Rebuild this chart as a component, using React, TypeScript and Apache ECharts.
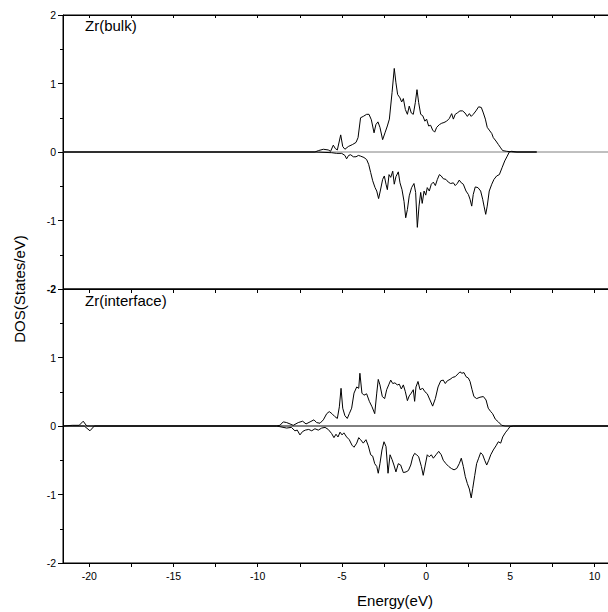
import React, { useEffect, useRef } from "react";
import * as echarts from "echarts";

const X_MIN = -21.56;
const X_MAX = 10.98;
const energyTicks = [-20, -17.5, -15, -12.5, -10, -7.5, -5, -2.5, 0, 2.5, 5, 7.5, 10];
const energyLabels = [-20, -15, -10, -5, 0, 5, 10];

// Zr(bulk) spin-up
const bulkUpE = [-21.56, -6.6, -6.4, -6.1, -5.81, -5.67, -5.51, -5.39, -5.27, -5.07, -4.95, -4.82, -4.62, -4.36, -4.16, -4.04, -3.89, -3.73, -3.53, -3.39, -3.25, -3.09, -2.98, -2.86, -2.74, -2.58, -2.44, -2.3, -2.18, -2.02, -1.89, -1.79, -1.69, -1.55, -1.45, -1.35, -1.23, -1.11, -1.0, -0.88, -0.76, -0.64, -0.54, -0.44, -0.32, -0.2, -0.07, 0.03, 0.15, 0.27, 0.39, 0.51, 0.63, 0.79, 0.93, 1.06, 1.22, 1.38, 1.52, 1.62, 1.73, 1.85, 2.01, 2.17, 2.31, 2.45, 2.57, 2.68, 2.8, 2.96, 3.12, 3.28, 3.4, 3.52, 3.63, 3.75, 3.9, 3.99, 4.15, 4.29, 4.43, 4.55, 4.79, 5.18, 6.57];
const bulkUpDos = [0, 0, 0.02, 0.04, 0.03, 0.01, 0.1, 0.05, 0.03, 0.25, 0.08, 0.04, 0.08, 0.11, 0.14, 0.21, 0.5, 0.52, 0.55, 0.55, 0.47, 0.28, 0.4, 0.44, 0.36, 0.18, 0.28, 0.38, 0.48, 0.87, 1.22, 1.01, 0.84, 0.79, 0.73, 0.78, 0.62, 0.55, 0.67, 0.57, 0.55, 0.72, 0.91, 0.72, 0.55, 0.53, 0.45, 0.48, 0.38, 0.39, 0.32, 0.29, 0.36, 0.4, 0.42, 0.43, 0.45, 0.49, 0.56, 0.48, 0.55, 0.57, 0.6, 0.6, 0.57, 0.52, 0.56, 0.52, 0.55, 0.6, 0.66, 0.65, 0.57, 0.48, 0.36, 0.32, 0.27, 0.21, 0.16, 0.11, 0.06, 0.02, 0.01, 0, 0];

// Zr(bulk) spin-down
const bulkDnE = [-21.56, -6.6, -5.61, -5.31, -5.01, -4.82, -4.72, -4.6, -4.48, -4.32, -4.16, -4.02, -3.89, -3.69, -3.53, -3.41, -3.29, -3.17, -3.03, -2.93, -2.82, -2.72, -2.58, -2.48, -2.38, -2.3, -2.2, -2.1, -1.98, -1.89, -1.79, -1.65, -1.55, -1.43, -1.31, -1.21, -1.11, -1.0, -0.86, -0.72, -0.62, -0.52, -0.42, -0.32, -0.23, -0.12, -0.02, 0.07, 0.19, 0.31, 0.43, 0.55, 0.67, 0.79, 0.9, 1.02, 1.18, 1.32, 1.46, 1.62, 1.73, 1.85, 1.97, 2.09, 2.21, 2.37, 2.51, 2.61, 2.71, 2.8, 2.92, 3.08, 3.24, 3.36, 3.44, 3.54, 3.63, 3.75, 3.9, 4.03, 4.19, 4.35, 4.51, 4.67, 4.82, 4.94, 5.08, 5.4, 6.57];
const bulkDnDos = [0, 0, -0.01, -0.02, -0.02, -0.05, -0.1, -0.05, -0.04, -0.07, -0.07, -0.05, -0.06, -0.08, -0.11, -0.18, -0.3, -0.42, -0.52, -0.57, -0.68, -0.57, -0.4, -0.35, -0.47, -0.55, -0.33, -0.37, -0.28, -0.47, -0.36, -0.29, -0.45, -0.55, -0.72, -0.96, -0.84, -0.64, -0.52, -0.46, -0.59, -1.1, -0.79, -0.59, -0.75, -0.57, -0.63, -0.52, -0.57, -0.47, -0.44, -0.49, -0.4, -0.33, -0.35, -0.39, -0.4, -0.44, -0.46, -0.45, -0.49, -0.46, -0.41, -0.45, -0.47, -0.57, -0.62, -0.69, -0.79, -0.62, -0.51, -0.52, -0.57, -0.69, -0.79, -0.91, -0.79, -0.57, -0.47, -0.4, -0.35, -0.33, -0.23, -0.13, -0.06, 0, 0.01, 0, 0];

// Zr(interface) spin-up
const intUpE = [-21.56, -21.0, -20.6, -20.36, -20.15, -8.9, -8.68, -8.48, -8.28, -8.08, -7.89, -7.59, -7.33, -7.13, -6.89, -6.66, -6.5, -6.3, -6.1, -5.9, -5.75, -5.59, -5.43, -5.27, -5.15, -5.05, -4.95, -4.82, -4.68, -4.56, -4.42, -4.28, -4.12, -4.0, -3.93, -3.81, -3.69, -3.53, -3.37, -3.21, -3.05, -2.93, -2.84, -2.74, -2.6, -2.46, -2.34, -2.22, -2.1, -1.98, -1.85, -1.71, -1.59, -1.47, -1.35, -1.23, -1.11, -1.0, -0.88, -0.76, -0.68, -0.6, -0.48, -0.36, -0.2, -0.07, 0.07, 0.23, 0.39, 0.55, 0.71, 0.87, 1.02, 1.14, 1.26, 1.42, 1.58, 1.73, 1.89, 2.01, 2.13, 2.25, 2.37, 2.51, 2.61, 2.73, 2.84, 3.0, 3.2, 3.4, 3.56, 3.69, 3.84, 3.95, 4.11, 4.29, 4.49, 4.69, 10.98];
const intUpDos = [0, 0.01, 0.01, 0.07, 0, 0, 0.01, 0.06, 0.05, 0.03, 0.01, 0.05, 0.07, 0.03, 0.06, 0.09, 0.05, 0.04, 0.09, 0.18, 0.21, 0.18, 0.14, 0.11, 0.28, 0.55, 0.26, 0.15, 0.11, 0.18, 0.26, 0.48, 0.57, 0.55, 0.77, 0.48, 0.45, 0.47, 0.36, 0.28, 0.18, 0.48, 0.68, 0.6, 0.43, 0.4, 0.53, 0.6, 0.67, 0.62, 0.63, 0.6, 0.61, 0.54, 0.6, 0.5, 0.37, 0.44, 0.48, 0.53, 0.36, 0.57, 0.65, 0.53, 0.55, 0.5, 0.47, 0.38, 0.29, 0.4, 0.57, 0.66, 0.67, 0.62, 0.66, 0.68, 0.71, 0.72, 0.76, 0.79, 0.77, 0.78, 0.72, 0.7, 0.65, 0.53, 0.43, 0.4, 0.42, 0.43, 0.38, 0.26, 0.21, 0.18, 0.1, 0.06, 0.01, 0, 0];

// Zr(interface) spin-down
const intDnE = [-21.56, -20.3, -19.96, -19.7, -8.9, -8.68, -8.28, -8.0, -7.79, -7.65, -7.49, -7.33, -7.17, -6.97, -6.79, -6.6, -6.4, -6.2, -6.0, -5.81, -5.61, -5.47, -5.35, -5.23, -5.11, -4.99, -4.88, -4.72, -4.56, -4.4, -4.28, -4.12, -4.0, -3.89, -3.73, -3.57, -3.43, -3.29, -3.17, -3.05, -2.93, -2.84, -2.74, -2.62, -2.5, -2.38, -2.26, -2.14, -2.02, -1.91, -1.79, -1.65, -1.51, -1.35, -1.19, -1.05, -0.91, -0.79, -0.68, -0.56, -0.44, -0.28, -0.17, -0.05, 0.07, 0.19, 0.31, 0.43, 0.59, 0.75, 0.9, 1.02, 1.18, 1.34, 1.5, 1.66, 1.82, 1.97, 2.09, 2.21, 2.33, 2.45, 2.57, 2.68, 2.77, 2.89, 3.0, 3.12, 3.24, 3.36, 3.48, 3.6, 3.72, 3.84, 3.99, 4.15, 4.29, 4.43, 4.55, 4.7, 4.86, 4.98, 5.18, 10.98];
const intDnDos = [0, 0, -0.07, 0, 0, -0.01, -0.03, -0.02, -0.07, -0.06, -0.13, -0.08, -0.06, -0.05, -0.07, -0.04, -0.06, -0.03, -0.02, -0.05, -0.11, -0.17, -0.12, -0.16, -0.09, -0.13, -0.1, -0.16, -0.2, -0.28, -0.31, -0.25, -0.17, -0.2, -0.25, -0.2, -0.29, -0.42, -0.44, -0.55, -0.59, -0.69, -0.55, -0.35, -0.23, -0.3, -0.69, -0.42, -0.49, -0.57, -0.67, -0.55, -0.57, -0.68, -0.67, -0.65, -0.57, -0.45, -0.4, -0.42, -0.45, -0.59, -0.72, -0.57, -0.42, -0.45, -0.42, -0.47, -0.42, -0.37, -0.42, -0.5, -0.55, -0.59, -0.62, -0.64, -0.62, -0.55, -0.47, -0.59, -0.74, -0.84, -0.92, -1.05, -0.91, -0.72, -0.55, -0.47, -0.39, -0.42, -0.5, -0.57, -0.5, -0.42, -0.35, -0.29, -0.23, -0.25, -0.16, -0.1, -0.05, -0.01, 0, 0];

const zip = (xs: number[], ys: number[]) => xs.map((x, i) => [x, ys[i]]);

const FONT = "'Liberation Sans', Arial, sans-serif";

export default function App() {
  const ref = useRef<HTMLDivElement>(null);
  useEffect(() => {
    if (!ref.current) return;
    const chart = echarts.init(ref.current, undefined, { renderer: "svg" });
    const xBase = {
      type: "value" as const,
      min: X_MIN,
      max: X_MAX,
      splitLine: { show: false },
      axisLine: { show: true, onZero: false, lineStyle: { color: "#000", width: 1 } },
    };
    const yBase = {
      type: "value" as const,
      min: -2,
      max: 2,
      interval: 1,
      splitLine: { show: false },
      axisLine: { show: true, onZero: false, lineStyle: { color: "#000", width: 1 } },
      axisTick: { show: true, inside: false, length: 5, lineStyle: { color: "#000" } },
      minorTick: { show: true, splitNumber: 2, length: 3, lineStyle: { color: "#000" } },
    };
    const labelBase = {
      color: "#000",
      fontSize: 10.5,
      fontFamily: FONT,
      margin: 7,
    };
    const dataLine = (name: string, x: number, y: number, d: number[][]) => ({
      name,
      type: "line" as const,
      xAxisIndex: x,
      yAxisIndex: y,
      data: d,
      showSymbol: false,
      symbol: "none",
      lineStyle: { color: "#000", width: 1 },
      z: 3,
      silent: true,
    });
    const zeroLine = (x: number, y: number, color: string) => ({
      type: "line" as const,
      xAxisIndex: x,
      yAxisIndex: y,
      data: [
        [X_MIN, 0],
        [X_MAX, 0],
      ],
      showSymbol: false,
      symbol: "none",
      lineStyle: { color, width: 1 },
      z: 2,
      silent: true,
    });
    const gridBase = {
      show: true,
      borderColor: "#000",
      borderWidth: 1,
      backgroundColor: "transparent",
      left: 63,
      right: -3,
      height: 274,
      containLabel: false,
      outerBoundsMode: "none",
    };
    chart.setOption({
      animation: false,
      backgroundColor: "#fff",
      grid: [
        { ...gridBase, top: 15 },
        { ...gridBase, top: 289 },
      ],
      xAxis: [
        {
          ...xBase,
          gridIndex: 0,
          position: "bottom",
          axisTick: { show: true, inside: false, length: 4, customValues: energyTicks, lineStyle: { color: "#000" } },
          axisLabel: { ...labelBase, show: true, customValues: energyLabels, formatter: () => "" },
        },
        {
          ...xBase,
          gridIndex: 0,
          position: "top",
          axisTick: { show: true, inside: true, length: 3, customValues: energyTicks, lineStyle: { color: "#000" } },
          axisLabel: { ...labelBase, show: true, customValues: energyLabels, formatter: () => "" },
        },
        {
          ...xBase,
          gridIndex: 1,
          position: "bottom",
          axisTick: { show: true, inside: false, length: 4, customValues: energyTicks, lineStyle: { color: "#000" } },
          axisLabel: { ...labelBase, show: true, customValues: energyLabels },
        },
      ],
      yAxis: [
        {
          ...yBase,
          gridIndex: 0,
          axisLabel: {
            ...labelBase,
            formatter: (v: number) => (v === -2 ? "{b|-2}" : String(v)),
            rich: { b: { fontSize: 10.5, fontFamily: FONT, fontWeight: "bold", color: "#000" } },
          },
        },
        {
          ...yBase,
          gridIndex: 1,
          axisLabel: { ...labelBase, formatter: (v: number) => (v === 2 ? "" : String(v)) },
        },
      ],
      series: [
        zeroLine(0, 0, "#808080"),
        zeroLine(2, 1, "#000"),
        dataLine("bulk up", 0, 0, zip(bulkUpE, bulkUpDos)),
        dataLine("bulk down", 0, 0, zip(bulkDnE, bulkDnDos)),
        dataLine("interface up", 2, 1, zip(intUpE, intUpDos)),
        dataLine("interface down", 2, 1, zip(intDnE, intDnDos)),
      ],
      graphic: [
        {
          type: "text",
          left: 85,
          top: 18,
          style: { text: "Zr(bulk)", fontSize: 15, fontFamily: FONT, fill: "#000" },
        },
        {
          type: "text",
          left: 85,
          top: 293,
          style: { text: "Zr(interface)", fontSize: 15, fontFamily: FONT, fill: "#000" },
        },
        {
          type: "text",
          x: 395,
          y: 600,
          style: {
            text: "Energy(eV)",
            fontSize: 15,
            fontFamily: FONT,
            fill: "#000",
            align: "center",
            verticalAlign: "middle",
          },
        },
        {
          type: "text",
          x: 19,
          y: 289,
          rotation: Math.PI / 2,
          style: {
            text: "DOS(States/eV)",
            fontSize: 15,
            fontFamily: FONT,
            fill: "#000",
            align: "center",
            verticalAlign: "middle",
          },
        },
      ],
    });
    return () => chart.dispose();
  }, []);
  return (
    <div
      ref={ref}
      style={{ position: "fixed", left: 0, top: 0, width: 608, height: 612, background: "#fff" }}
    />
  );
}
